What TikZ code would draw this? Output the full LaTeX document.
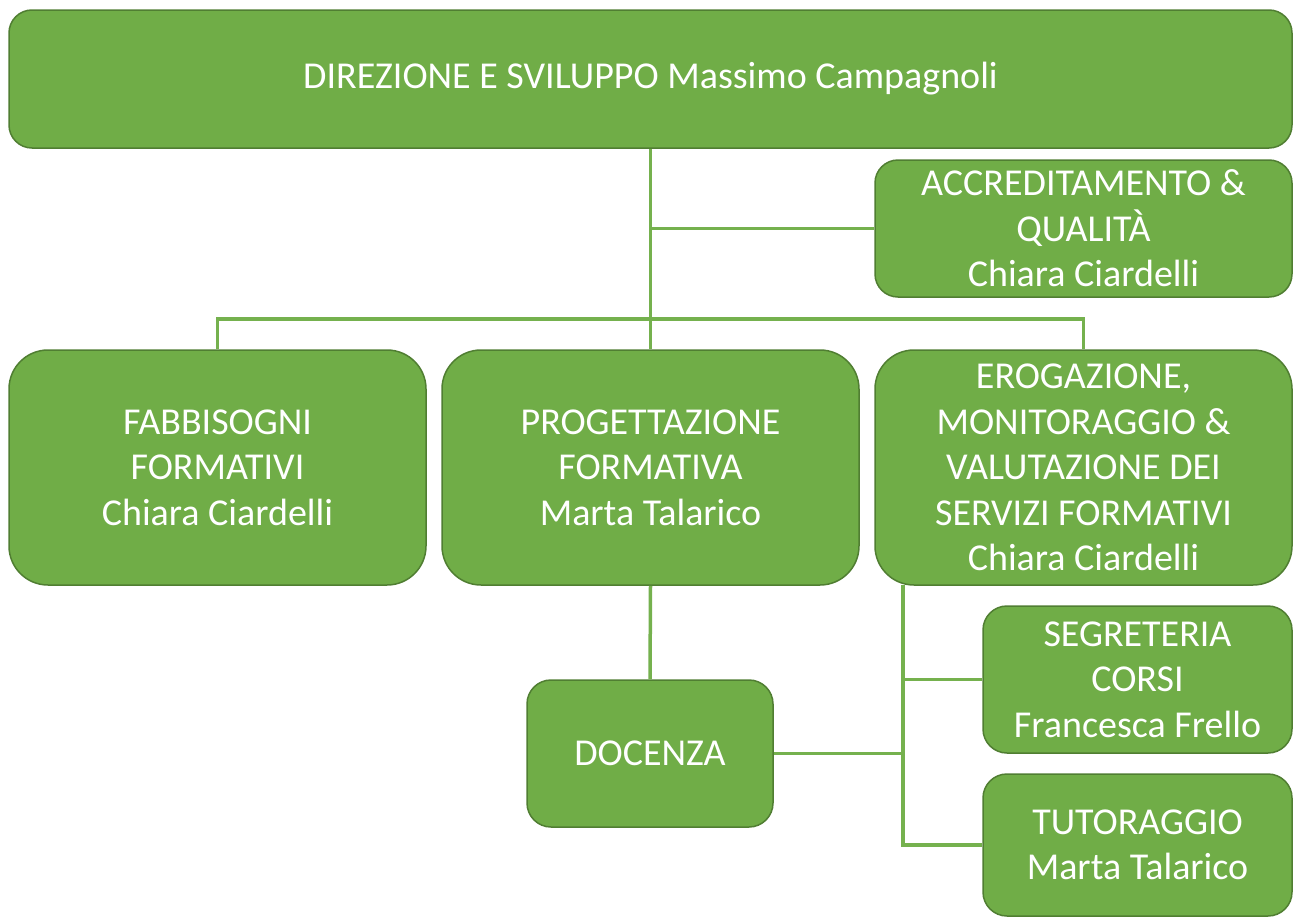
\documentclass[tikz,border=0pt]{standalone}
\usepackage{fontspec}
\setmainfont{Carlito}
\usepackage{tikz}

\definecolor{boxgreen}{HTML}{70AD47}
\definecolor{edgegreen}{HTML}{507E32}
\definecolor{linkgreen}{HTML}{75B14E}

\tikzset{
  unit/.style={draw=edgegreen,line width=1.5pt,fill=boxgreen,text=white,
    align=center,inner sep=0pt,font=\fontsize{38}{45.5}\selectfont},
  link/.style={draw=linkgreen,line width=3.5pt}
}

\begin{document}
\begin{tikzpicture}[x=1pt,y=-1pt]
            \useasboundingbox (0,0) rectangle (1293,918);
            % boxes
            \node[unit,rounded corners=23pt,minimum width=1283pt,minimum height=138pt] (dir) at (650.5,79) {DIREZIONE E SVILUPPO Massimo Campagnoli};
            \node[unit,rounded corners=23pt,minimum width=417pt,minimum height=137pt] (acc) at (1083.5,228.5) {ACCREDITAMENTO \&\\QUALITÀ\\Chiara Ciardelli};
            \node[unit,rounded corners=39pt,minimum width=417pt,minimum height=235pt] (fabb) at (217.5,467.5) {FABBISOGNI\\FORMATIVI\\Chiara Ciardelli};
            \node[unit,rounded corners=39pt,minimum width=417pt,minimum height=235pt] (prog) at (650.5,467.5) {PROGETTAZIONE\\FORMATIVA\\Marta Talarico};
            \node[unit,rounded corners=39pt,minimum width=417pt,minimum height=235pt] (erog) at (1083.5,467.5) {EROGAZIONE,\\MONITORAGGIO \&\\VALUTAZIONE DEI\\SERVIZI FORMATIVI\\Chiara Ciardelli};
            \node[unit,rounded corners=24pt,minimum width=246pt,minimum height=147pt] (doc) at (650,753.5) {DOCENZA};
            \node[unit,rounded corners=24pt,minimum width=309pt,minimum height=147pt] (segr) at (1137.5,679.5) {SEGRETERIA\\CORSI\\Francesca Frello};
            \node[unit,rounded corners=24pt,minimum width=309pt,minimum height=142pt] (tutor) at (1137.5,845) {TUTORAGGIO\\Marta Talarico};
            % connectors
            \coordinate (bus) at (650.5,319);
            \coordinate (spine) at (903,585);
            \begin{scope}[on background layer/.try]
            \draw[link] (dir.south) -- (prog.north);
            \draw[link] (acc.west) -- (acc.west -| dir.south);
            \draw[link] (fabb.north) |- (bus) -| (erog.north);
            \draw[link] (prog.south) -- (doc.north);
            \draw[link] (spine) |- (tutor.west);
            \draw[link] (segr.west) -- (segr.west -| spine);
            \draw[link] (doc.east) -- (doc.east -| spine);
            \end{scope}
        \end{tikzpicture}
\end{document}
